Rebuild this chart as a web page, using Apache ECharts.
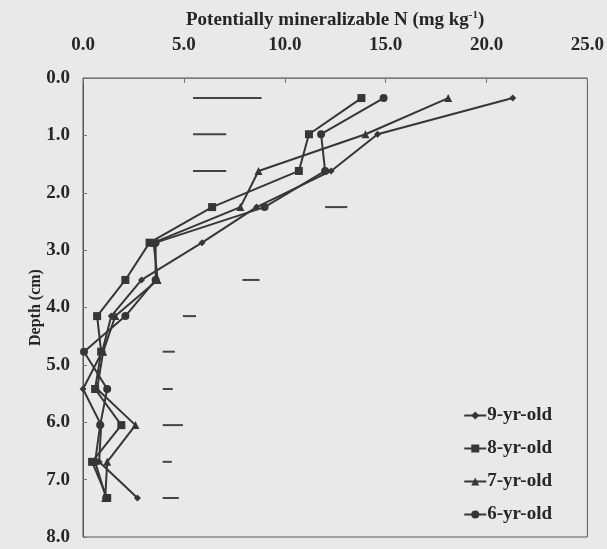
<!DOCTYPE html>
<html>
<head>
<meta charset="utf-8">
<script src="https://cdn.jsdelivr.net/npm/echarts@6/dist/echarts.min.js"></script>
<style>html,body{margin:0;padding:0;background:#e9e9e9;}#c{width:607px;height:549px;}</style>
</head>
<body>
<div id="c"></div>
<script>
// Depth of each sampling layer (cm)
const depths = [0.35, 0.98, 1.62, 2.25, 2.87, 3.52, 4.15, 4.77, 5.42, 6.05, 6.69, 7.32];
// Potentially mineralizable N (mg kg-1)
const yr9 = [21.3, 14.6, 12.3, 8.6, 5.9, 2.9, 1.4, 0.95, 0.0, 0.9, 0.8, 2.7];
const yr8 = [13.8, 11.2, 10.7, 6.4, 3.3, 2.1, 0.7, 0.9, 0.6, 1.9, 0.45, 1.2];
const yr7 = [18.1, 14.0, 8.7, 7.8, 3.5, 3.7, 1.6, 1.0, 0.7, 2.6, 1.2, 1.1];
const yr6 = [14.9, 11.8, 12.0, 9.0, 3.6, 3.6, 2.1, 0.05, 1.2, 0.85, 0.6, 1.15];
// LSD dashes: [start, end, depth]
const lsdStart = [5.45, 5.45, 5.45, 12.0, 7.9, 4.95, 3.95, 3.95, 3.95, 3.95, 3.95];
const lsdEnd   = [8.85, 7.1, 7.1, 13.1, 8.75, 5.6, 4.55, 4.45, 4.95, 4.4, 4.75];
const lsdDepth = [0.35, 0.98, 1.62, 2.25, 3.52, 4.15, 4.77, 5.42, 6.05, 6.69, 7.32];
const seriesNames = ['9-yr-old', '8-yr-old', '7-yr-old', '6-yr-old'];
const xTicks = [0, 5, 10, 15, 20, 25];
const yTicks = [0, 1, 2, 3, 4, 5, 6, 7, 8];

const ink = '#363636';
const txt = '#262626';
const font = 'Liberation Serif';
const pair = arr => arr.map((v, i) => [v, depths[i]]);
const symbols = ['diamond', 'rect', 'triangle', 'circle'];
const sizes = [7, 8, 8, 8];
const dataSets = [yr9, yr8, yr7, yr6];

const chart = echarts.init(document.getElementById('c'), null, {renderer: 'canvas'});
const lineSeries = dataSets.map((d, k) => ({
  name: seriesNames[k], type: 'line', data: pair(d),
  symbol: symbols[k], symbolSize: sizes[k],
  lineStyle: {color: ink, width: 2}, itemStyle: {color: ink},
  emphasis: {disabled: true}
}));
const lsdData = lsdStart.map((s, i) => [s, lsdEnd[i], lsdDepth[i]]);

chart.setOption({
  backgroundColor: '#e9e9e9',
  animation: false,
  grid: {left: 83, right: 18, top: 78, bottom: 12, show: true, borderColor: '#555', borderWidth: 1, backgroundColor: 'transparent'},
  legend: {
    data: seriesNames, orient: 'vertical', right: 50, top: 401, itemGap: 14,
    itemWidth: 22, itemHeight: 10,
    textStyle: {fontFamily: font, fontWeight: 'bold', fontSize: 19, color: txt, padding: [0, 0, 0, -4]}
  },
  xAxis: {
    type: 'value', position: 'top', min: 0, max: 25, interval: 5,
    name: 'Potentially mineralizable N (mg kg{sup|-1})', nameLocation: 'middle', nameGap: 48,
    nameMoveOverlap: false,
    nameTextStyle: {fontFamily: font, fontWeight: 'bold', fontSize: 19, color: txt,
      rich: {sup: {fontFamily: font, fontWeight: 'bold', fontSize: 11, verticalAlign: 'top', padding: [0, 0, 9, 0], color: txt}}},
    axisLine: {show: true, lineStyle: {color: '#777', width: 1}},
    axisTick: {show: true, inside: true, length: 5, lineStyle: {color: '#777'}},
    splitLine: {show: false},
    axisLabel: {formatter: v => v.toFixed(1), fontFamily: font, fontWeight: 'bold', fontSize: 19, color: txt, margin: 23}
  },
  yAxis: {
    type: 'value', inverse: true, min: 0, max: 8, interval: 1,
    name: 'Depth (cm)', nameLocation: 'middle', nameGap: 39, nameRotate: 90,
    nameMoveOverlap: false,
    nameTextStyle: {fontFamily: font, fontWeight: 'bold', fontSize: 16, color: txt},
    axisLine: {show: true, lineStyle: {color: '#555', width: 1}},
    axisTick: {show: true, inside: true, length: 4, lineStyle: {color: '#777'}},
    splitLine: {show: false},
    axisLabel: {formatter: v => v.toFixed(1), fontFamily: font, fontWeight: 'bold', fontSize: 19, color: txt, margin: 13}
  },
  series: lineSeries.concat([{
    name: 'LSD', type: 'custom', data: lsdData,
    renderItem: (params, api) => {
      const p1 = api.coord([api.value(0), api.value(2)]);
      const p2 = api.coord([api.value(1), api.value(2)]);
      return {type: 'line', shape: {x1: p1[0], y1: p1[1], x2: p2[0], y2: p2[1]}, style: {stroke: '#444', lineWidth: 2}};
    },
    encode: {x: [0, 1], y: 2}
  }])
});
</script>
</body>
</html>
